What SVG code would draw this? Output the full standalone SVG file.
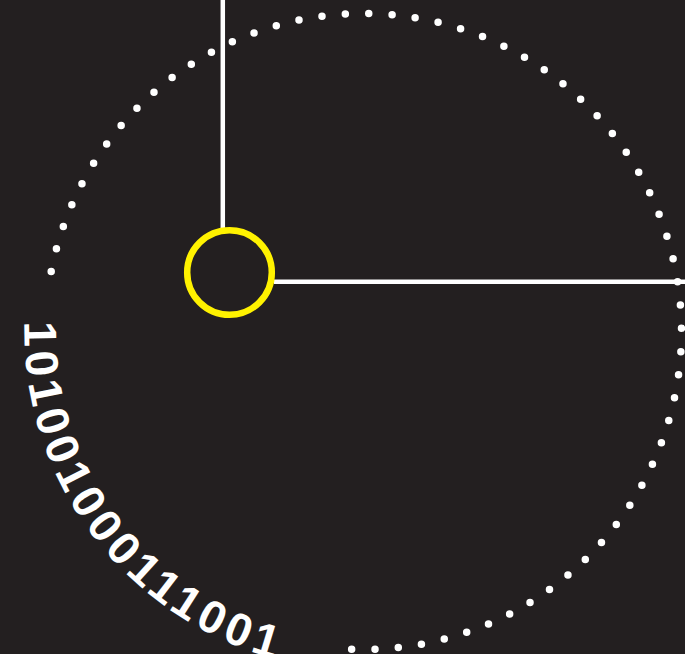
<svg xmlns="http://www.w3.org/2000/svg" width="685" height="654" viewBox="0 0 685 654">
  <style>
    .bg { fill: #231f20; }
    .connector { stroke: #ffffff; stroke-width: 4.5; fill: none; }
    .dots { stroke: #ffffff; stroke-width: 7.5; fill: none; stroke-linecap: round; stroke-dasharray: 0 23.38; }
    .node { fill: none; stroke: #fff200; stroke-width: 6.5; }
    .binary { fill: #ffffff; font-family: "Liberation Sans", Arial, sans-serif; font-weight: bold; font-size: 46px; letter-spacing: 5.2px; }
  </style>
  <defs>
    <path id="textArc" d="M24.6,321.7 A339,339 0 0 0 363.5,670.5"/>
  </defs>
  <rect class="bg" x="0" y="0" width="685" height="654"/>
  <g id="dotted-ring">
    <path class="dots" d="M51.2,271.6 A318,318 0 1 1 349.6,649.2"/>
  </g>
  <g id="binary-label">
    <text class="binary"><textPath href="#textArc">101001000111001</textPath></text>
  </g>
  <g id="connectors">
    <line class="connector" x1="222.8" y1="0" x2="222.8" y2="228"/>
    <line class="connector" x1="274" y1="281.8" x2="685" y2="281.8"/>
  </g>
  <g id="hub">
    <circle class="node" cx="229.5" cy="272.5" r="42.3"/>
  </g>
</svg>
